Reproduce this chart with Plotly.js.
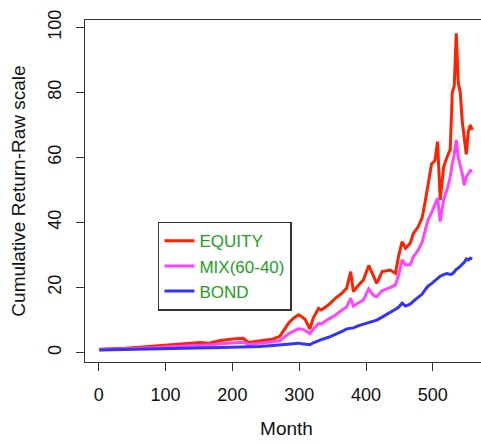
<!DOCTYPE html>
<html>
<head>
<meta charset="utf-8">
<script src="https://cdn.plot.ly/plotly-3.0.1.min.js"></script>
<style>
html,body{margin:0;padding:0;overflow:hidden;background:#fff;}
#chart{width:490px;height:443px;}
</style>
</head>
<body>
<div id="chart"></div>
<script>
var months = [1,20,40,60,80,100,120,140,152,165,182,201,216,224,241,261,271,284,291,299,304,309,316,321,329,333,344,354,364,371,377,381,389,396,404,411,416,424,436,444,449,454,459,466,471,478,484,489,493,498,503,507,511,516,521,526,529,532,535,538,541,544,547,550,553,556,559];

var equity = [1.0,1.1,1.3,1.6,1.9,2.2,2.5,2.8,3.1,2.9,3.7,4.2,4.4,3.1,3.7,4.2,5.0,9.0,10.5,11.6,11.0,10.2,7.2,10.6,13.6,13.1,14.7,16.7,18.3,19.8,24.9,18.8,20.8,22.3,26.8,23.4,21.3,24.9,25.4,24.4,30,34.1,32.1,33.6,36.7,38.7,41.5,47,52,58,59,64.9,47,57,60,62.5,80,82,98.2,83,80,71,66,61,68,70,68.5];

var mix = [0.9,1.0,1.1,1.3,1.5,1.7,1.9,2.1,2.3,2.3,2.7,3.1,3.2,2.5,2.8,3.3,3.6,5.8,6.5,7.3,7.2,6.8,5.8,7.2,9.0,8.8,10.3,11.5,13.1,14.0,16.7,14.3,15.3,16.2,19.6,17.6,17.2,19.0,20.0,20.8,24,28.5,27,27.0,29.5,31.5,34,38,41,43,45.5,47.5,40.3,47,50,54,58,61,65.4,60,57.5,55,51.5,54,55,56,55.8];

var bond = [0.8,0.85,0.9,1.0,1.1,1.2,1.3,1.35,1.4,1.45,1.55,1.65,1.7,1.65,1.9,2.2,2.4,2.7,2.8,2.9,2.7,2.5,2.4,3.0,3.8,4.0,4.7,5.5,6.5,7.3,7.5,7.6,8.3,8.7,9.3,9.5,10.0,10.9,12.2,13.3,14.0,15.2,14.3,14.9,15.8,17.0,18.0,19.5,20.5,21.2,22.0,22.8,23.5,24.0,24.3,24.0,24.2,24.8,25.6,26.0,26.6,27.2,27.8,28.8,28.5,29.0,28.8];

var seriesNames = ["EQUITY", "MIX(60-40)", "BOND"];
var xTicks = [0, 100, 200, 300, 400, 500];
var yTicks = [0, 20, 40, 60, 80, 100];

var colors = ["#ff2200", "#ff44ff", "#3333ff"];
var series = [equity, mix, bond];

var traces = series.map(function (s, i) {
  return {
    x: months,
    y: s,
    type: "scatter",
    mode: "lines",
    name: seriesNames[i],
    line: {color: colors[i], width: 3}
  };
});

var fam = "Liberation Sans, Arial, Helvetica, sans-serif";
var tickFont = {family: fam, size: 18, color: "#111"};
var titleFont = {family: fam, size: 19, color: "#111"};

var layout = {
  width: 490,
  height: 443,
  margin: {l: 85, r: 2, t: 20, b: 81},
  paper_bgcolor: "#fff",
  plot_bgcolor: "#fff",
  font: tickFont,
  showlegend: true,
  xaxis: {
    range: [-20.5, 582.5],
    tickvals: xTicks,
    ticktext: xTicks.map(String),
    ticks: "outside",
    ticklen: 8,
    tickwidth: 1,
    tickcolor: "#333",
    showline: true,
    mirror: true,
    linecolor: "#333",
    linewidth: 1.2,
    showgrid: false,
    zeroline: false,
    ticklabelstandoff: 8,
    tickfont: tickFont,
    title: {text: "Month", font: titleFont, standoff: 18}
  },
  yaxis: {
    range: [-2.9, 102.3],
    tickvals: yTicks,
    ticktext: yTicks.map(String),
    tickangle: -90,
    ticks: "outside",
    ticklen: 8,
    tickwidth: 1,
    tickcolor: "#333",
    showline: true,
    mirror: true,
    linecolor: "#333",
    linewidth: 1.2,
    showgrid: false,
    zeroline: false,
    ticklabelstandoff: 8,
    tickfont: tickFont,
    title: {text: "Cumulative Return-Raw scale", font: titleFont, standoff: 14}
  },
  legend: {
    x: 0.181,
    y: 0.41,
    xanchor: "left",
    yanchor: "top",
    bgcolor: "#fff",
    bordercolor: "#333",
    borderwidth: 1.5,
    font: {family: fam, size: 17, color: "#22a022"},
    itemwidth: 30,
    tracegroupgap: 0
  }
};

Plotly.newPlot("chart", traces, layout, {displayModeBar: false, staticPlot: true});
</script>
</body>
</html>
